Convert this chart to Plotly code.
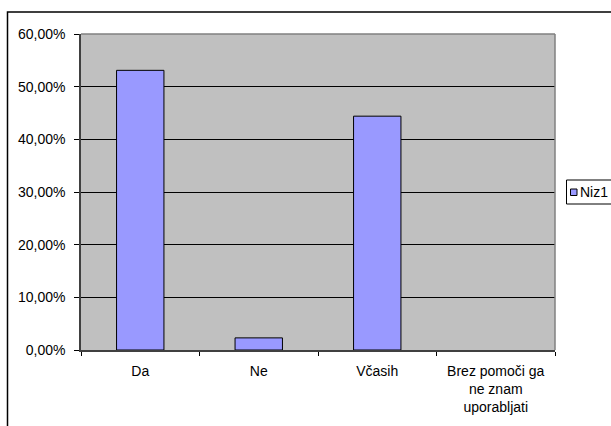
import plotly.graph_objects as go

# Survey answers and their shares
categories = ["Da", "Ne", "Včasih", "Brez pomoči ga<br>ne znam<br>uporabljati"]
shares = [0.531, 0.023, 0.444, 0.0]
series_name = "Niz1"

W, H = 611, 426
L, R, T, B = 81, 56, 34, 76          # plot area 81..555 x 34..350
pw, ph = W - L - R, H - T - B


def px_x(x):
    return (x - L) / pw


def px_y(y):
    return (H - B - y) / ph


font = dict(family="Arial, Liberation Sans, sans-serif", size=14, color="black")

fig = go.Figure(
    go.Bar(
        x=categories,
        y=shares,
        name=series_name,
        marker=dict(
            color="#9999FF",
            # empty bars get no outline
            line=dict(color="#000000", width=[1 if v > 0 else 0 for v in shares]),
        ),
        showlegend=False,
    )
)

shapes = [
    # chart frame
    dict(type="rect", xref="paper", yref="paper",
         x0=px_x(7.5), x1=px_x(700), y0=px_y(12), y1=px_y(500),
         line=dict(color="black", width=1.5), fillcolor="rgba(0,0,0,0)", layer="above"),
    # plot-area border (top and right)
    dict(type="line", xref="paper", yref="paper", x0=0, x1=1, y0=1, y1=1,
         line=dict(color="#808080", width=1.5), layer="above"),
    dict(type="line", xref="paper", yref="paper", x0=1, x1=1, y0=0, y1=1,
         line=dict(color="#808080", width=1.5), layer="above"),
    # legend box and swatch
    dict(type="rect", xref="paper", yref="paper",
         x0=px_x(566.5), x1=px_x(660), y0=px_y(204), y1=px_y(180),
         line=dict(color="black", width=1), fillcolor="white"),
    dict(type="rect", xref="paper", yref="paper",
         x0=px_x(570.5), x1=px_x(577), y0=px_y(195.5), y1=px_y(189),
         line=dict(color="black", width=1), fillcolor="#9999FF"),
]

fig.update_layout(
    width=W, height=H,
    margin=dict(l=L, r=R, t=T, b=B),
    paper_bgcolor="white",
    plot_bgcolor="#C0C0C0",
    font=font,
    separators=",.",
    bargap=0.6,
    shapes=shapes,
    annotations=[
        dict(text=series_name, xref="paper", yref="paper",
             x=px_x(578), y=px_y(192), xanchor="left", yanchor="middle",
             showarrow=False, font=font),
    ],
)

fig.update_yaxes(
    range=[0, 0.6], dtick=0.1, tickformat=".2%",
    showgrid=True, gridcolor="black", gridwidth=1,
    showline=True, linecolor="#404040", linewidth=1.5,
    ticks="outside", ticklen=5, tickcolor="black",
    ticklabelstandoff=6, zeroline=False,
)
fig.update_xaxes(
    showgrid=False,
    showline=True, linecolor="#404040", linewidth=1.5,
    ticks="outside", ticklen=4, tickcolor="black", tickson="boundaries",
    ticklabelstandoff=7,
)

fig.write_html("out.html")
